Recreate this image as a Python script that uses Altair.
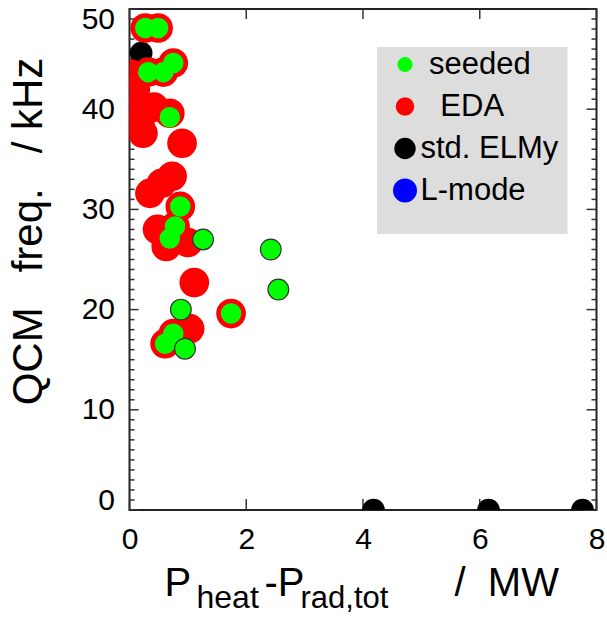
import altair as alt
import pandas as pd

FONT = "Liberation Sans"

# ---- data ----
eda_x = [0.27, 0.49, 0.32, 0.58, 0.75, 0.02, 0.10, 0.12, 0.18, 0.23, 0.42, 0.69,
         0.90, 0.35, 0.55, 0.73, 0.87, 0.48, 0.63, 1.00, 0.78, 0.69, 1.11, 1.74,
         0.61, 0.75, 1.03]
eda_y = [48.1, 48.1, 43.7, 43.7, 44.6, 43.5, 42.0, 40.2, 38.8, 37.6, 40.2, 39.6,
         36.6, 31.6, 32.6, 33.3, 30.3, 28.0, 26.3, 26.7, 28.3, 27.1, 22.7, 19.6,
         16.6, 17.6, 18.1]

seeded_x = [0.27, 0.49, 0.32, 0.58, 0.75, 0.69, 0.87, 0.78, 0.69, 1.26, 2.42, 2.55,
            0.88, 1.74, 0.75, 0.61, 0.95]
seeded_y = [48.1, 48.1, 43.7, 43.7, 44.6, 39.2, 30.3, 28.3, 27.1, 27.0, 26.0, 22.0,
            20.0, 19.6, 17.6, 16.6, 16.1]
seeded_outlined = [0, 0, 0, 0, 0, 0, 0, 0, 0, 1, 1, 1, 1, 0, 0, 0, 1]

elmy_x = [0.20, 4.18, 6.15, 7.76]
elmy_y = [45.6, 0.0, 0.0, 0.0]

# legend entries (zero-width space + no-break spaces reproduce the indented labels)
categories = ["\u200b\u00a0seeded", "\u200b\u00a0\u00a0\u200aEDA", "std. ELMy", "L-mode"]
cat_colors = ["#00ff00", "#ff0000", "#000000", "#0000ff"]
cat_legend_sizes = [227, 573, 284, 314]

x_ticks = [0, 2, 4, 6, 8]
y_ticks = [0, 10, 20, 30, 40, 50]
y_minor = [v for v in range(0, 51) if v % 10 != 0]

W, H = 467, 501

eda = pd.DataFrame({"x": eda_x, "y": eda_y})
seeded = pd.DataFrame({"x": seeded_x, "y": seeded_y, "o": seeded_outlined})
elmy = pd.DataFrame({"x": elmy_x, "y": elmy_y})
cats = pd.DataFrame({"type": categories})

xs = alt.Scale(domain=[0, 8], nice=False, zero=False)
ys = alt.Scale(domain=[0, 50], nice=False, zero=False)
X = alt.X("x:Q", scale=xs, title=None,
          axis=alt.Axis(values=x_ticks, labelFlush=False, ticks=False, domain=False,
                        grid=False, labelFontSize=30, labelFont=FONT, labelColor="black",
                        labelPadding=14))
Y = alt.Y("y:Q", scale=ys, title=None,
          axis=alt.Axis(values=y_ticks, labelFlush=True, labelFlushOffset=5, ticks=False,
                        domain=False, grid=False, labelFontSize=30, labelFont=FONT,
                        labelColor="black", labelPadding=15))

# legend box
box = alt.Chart(alt.Data(values=[{}])).mark_rect(color="#dddddd").encode(
    x=alt.value(247.5), x2=alt.value(438), y=alt.value(38), y2=alt.value(225))

tick_color = "#333333"
ymaj = pd.DataFrame({"y": y_ticks})
ymin = pd.DataFrame({"y": y_minor})
xmaj = pd.DataFrame({"x": x_ticks})
tick_layers = [
    alt.Chart(ymaj).mark_rule(color=tick_color, strokeWidth=1.5).encode(y=Y, x=alt.value(0), x2=alt.value(9)),
    alt.Chart(ymaj).mark_rule(color=tick_color, strokeWidth=1.5).encode(y=Y, x=alt.value(W - 10), x2=alt.value(W)),
    alt.Chart(ymin).mark_rule(color=tick_color, strokeWidth=1.5).encode(y=Y, x=alt.value(0), x2=alt.value(5)),
    alt.Chart(ymin).mark_rule(color=tick_color, strokeWidth=1.5).encode(y=Y, x=alt.value(W - 5), x2=alt.value(W)),
    alt.Chart(xmaj).mark_rule(color=tick_color, strokeWidth=1.5).encode(x=X, y=alt.value(0), y2=alt.value(10)),
    alt.Chart(xmaj).mark_rule(color=tick_color, strokeWidth=1.5).encode(x=X, y=alt.value(H - 11), y2=alt.value(H)),
]

black = alt.Chart(elmy).mark_circle(color="black", opacity=1, size=515, clip=True).encode(x=X, y=Y)
red = alt.Chart(eda).mark_circle(color="#ff0000", opacity=1, size=880, clip=True).encode(x=X, y=Y)
green_plain = alt.Chart(seeded).transform_filter("datum.o == 0").mark_circle(
    color="#00ff00", opacity=1, size=420, clip=True).encode(x=X, y=Y)
green_edge = alt.Chart(seeded).transform_filter("datum.o == 1").mark_point(
    filled=True, fill="#00ff00", stroke="#333333", strokeWidth=1.2, opacity=1,
    size=430, shape="circle", clip=True).encode(x=X, y=Y)

leg = alt.Legend(orient="none", legendX=260, legendY=40, title=None, padding=0,
                 direction="vertical", labelFontSize=31, labelFont=FONT,
                 labelColor="black", symbolType="circle", rowPadding=10,
                 labelOffset=0, symbolOffset=0, symbolStrokeWidth=0, symbolOpacity=1,
                 labelLimit=0)
legend_layer = alt.Chart(cats).transform_filter("datum.type == 'none'").mark_circle(opacity=1).encode(
    color=alt.Color("type:N", scale=alt.Scale(domain=categories, range=cat_colors), legend=leg),
    size=alt.Size("type:N", scale=alt.Scale(domain=categories, range=cat_legend_sizes), legend=leg),
)


def txt(s, size, px, py, angle=0, align="left"):
    return alt.Chart(alt.Data(values=[{"t": s}])).mark_text(
        fontSize=size, font=FONT, align=align, baseline="alphabetic", angle=angle,
        color="black").encode(text="t:N", x=alt.value(px), y=alt.value(py))


titles = [
    txt("P", 40, 35, 587),
    txt("heat", 32, 67, 599),
    txt("-P", 40, 135, 587),
    txt("rad,tot", 31, 171, 599),
    txt("/\u00a0\u00a0MW", 40, 325, 587),
    txt("QCM\u00a0\u00a0\u00a0freq.\u00a0\u00a0\u00a0/ kHz", 42, -88, 222.5, angle=270, align="center"),
]

chart = alt.layer(box, *tick_layers, black, red, green_plain, green_edge, legend_layer, *titles).properties(
    width=W, height=H,
    autosize=alt.AutoSizeParams(type="none"),
    padding={"left": 129.5, "top": 9, "right": 10.5, "bottom": 110},
    background="white",
).configure_view(stroke="#222222", strokeWidth=2)

chart.save("out.html", embed_options={"renderer": "svg", "actions": False})
